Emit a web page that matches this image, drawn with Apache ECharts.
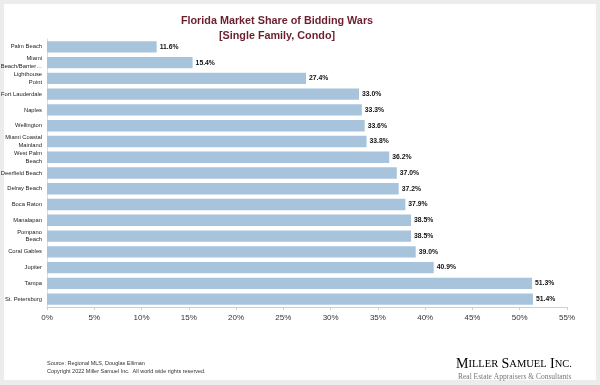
<!DOCTYPE html>
<html><head><meta charset="utf-8">
<script src="https://cdn.jsdelivr.net/npm/echarts@6/dist/echarts.min.js"></script>
<style>html,body{margin:0;padding:0;background:#ececec}#c{width:600px;height:385px}</style>
</head><body><div id="c"></div>
<script>
const categories = ["Palm Beach","Miami\nBeach/Barrier…","Lighthouse\nPoint","Fort Lauderdale","Naples","Wellington","Miami Coastal\nMainland","West Palm\nBeach","Deerfield Beach","Delray Beach","Boca Raton","Manalapan","Pompano\nBeach","Coral Gables","Jupiter","Tampa","St. Petersburg"];
const values = [11.6,15.4,27.4,33.0,33.3,33.6,33.8,36.2,37.0,37.2,37.9,38.5,38.5,39.0,40.9,51.3,51.4];
const xTicks = {min:0,max:55,interval:5};
const chart = echarts.init(document.getElementById('c'));
chart.setOption({
  backgroundColor:'#ececec',
  animation:false,
  graphic:[
    {type:'rect',z:-10,shape:{x:4,y:4,width:592,height:376},style:{fill:'#ffffff'}},
    {type:'text',left:47,top:359,style:{text:'Source: Regional MLS, Douglas Elliman\nCopyright 2022 Miller Samuel Inc.  All world wide rights reserved.',font:'5.5px "Liberation Sans", Arial',fill:'#333',lineHeight:8}},
    {type:'text',left:456,top:357,style:{text:'{b|M}{s|ILLER} {b|S}{s|AMUEL} {b|I}{s|NC.}',rich:{b:{fontFamily:'Liberation Serif',fontSize:14,color:'#7a2a35'},s:{fontFamily:'Liberation Serif',fontSize:10.5,color:'#7a2a35'}}}},
    {type:'text',left:458,top:373,style:{text:'Real Estate Appraisers & Consultants',font:'7.5px "Liberation Serif"',fill:'#777'}}
  ],
  title:{text:'Florida Market Share of Bidding Wars\n[Single Family, Condo]',left:272,top:9,textAlign:'center',
    textStyle:{fontFamily:'Liberation Sans',fontWeight:'bold',fontSize:10.8,color:'#6b1f2d',lineHeight:15}},
  grid:{left:47,right:33,top:39,bottom:78,containLabel:false,outerBoundsMode:'none'},
  xAxis:{type:'value',min:xTicks.min,max:xTicks.max,interval:xTicks.interval,
    axisLabel:{formatter:'{value}%',fontSize:8,color:'#333',fontFamily:'Liberation Sans',margin:7},
    axisLine:{show:true,lineStyle:{color:'#cfcfcf'}},axisTick:{show:true,length:3,lineStyle:{color:'#cfcfcf'}},
    splitLine:{show:false}},
  yAxis:{type:'category',data:categories,inverse:true,
    axisLabel:{fontSize:5.8,color:'#222',fontFamily:'Liberation Sans',lineHeight:7.5,align:'right',margin:5},
    axisLine:{show:true,lineStyle:{color:'#dcdcdc'}},axisTick:{show:false}},
  series:[{type:'bar',data:values,barCategoryGap:'28%',
    itemStyle:{color:'#a8c4dc'},
    label:{show:true,position:'right',distance:3,fontSize:6.8,fontWeight:'bold',color:'#111',fontFamily:'Liberation Sans',
      formatter:p=>p.value.toFixed(1)+'%'}}]
});
</script></body></html>
